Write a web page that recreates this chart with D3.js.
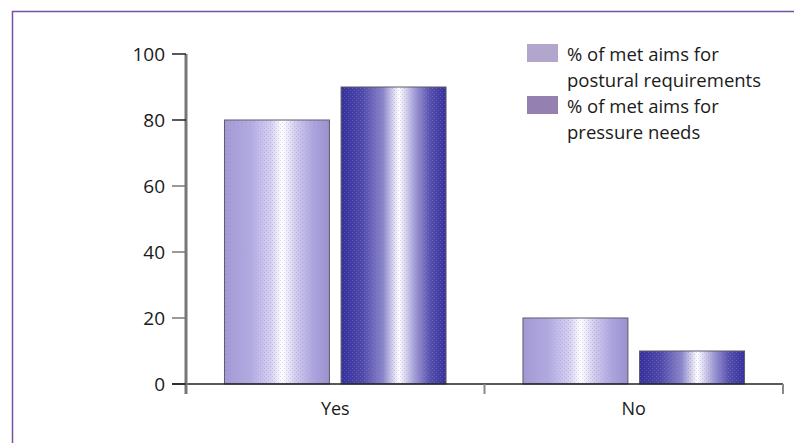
<!DOCTYPE html>
<html>
<head>
<meta charset="utf-8">
<script src="https://cdn.jsdelivr.net/npm/d3@7"></script>
<style>
  html, body { margin: 0; padding: 0; background: #fff; }
  svg { display: block; font-family: "Open Sans", "Noto Sans", sans-serif; }
</style>
</head>
<body>
<svg id="chart" width="794" height="443"></svg>
<script>
// Chart data
const categories = ["Yes", "No"];
const seriesNames = ["% of met aims for postural requirements", "% of met aims for pressure needs"];
const postural = [80, 20];
const pressure = [90, 10];
const yTicks = [0, 20, 40, 60, 80, 100];
const legendLines = [["% of met aims for", "postural requirements"], ["% of met aims for", "pressure needs"]];

const svg = d3.select("#chart");
const margin = { left: 186, right: 11, top: 54, bottom: 59 };
const W = 794, H = 443;

// Outer frame
svg.append("path")
  .attr("d", `M12.5,${H} L12.5,11.5 L${W},11.5`)
  .attr("fill", "none").attr("stroke", "#7452a8").attr("stroke-width", 1.5);

const x0 = d3.scaleBand().domain(categories).range([margin.left, W - margin.right]).paddingInner(0).paddingOuter(0);
const x1 = d3.scaleBand().domain([0, 1]).range([0, x0.bandwidth()]).paddingInner(0.1).paddingOuter(0.33);
const y = d3.scaleLinear().domain([0, 100]).range([H - margin.bottom, margin.top]);

// Gradients
const defs = svg.append("defs");
const grads = [
  { id: "g0", stops: [[0, "#a29ad2"], [0.25, "#b3ace0"], [0.45, "#d6d2f0"], [0.55, "#ffffff"], [0.68, "#d0ccec"], [0.85, "#aca4dc"], [1, "#9a92cc"]] },
  { id: "g1", stops: [[0, "#34309a"], [0.2, "#4e49a8"], [0.4, "#8a86c8"], [0.55, "#ffffff"], [0.7, "#a29ed4"], [0.85, "#5650ac"], [1, "#34309a"]] }
];
grads.forEach(g => {
  const lg = defs.append("linearGradient").attr("id", g.id).attr("x1", 0).attr("x2", 1).attr("y1", 0).attr("y2", 0);
  g.stops.forEach(s => lg.append("stop").attr("offset", s[0]).attr("stop-color", s[1]));
});
// Fine dot texture over the bars
const pat = defs.append("pattern").attr("id", "dots").attr("width", 4).attr("height", 4).attr("patternUnits", "userSpaceOnUse");
pat.append("rect").attr("x", 0).attr("y", 0).attr("width", 1).attr("height", 1).attr("fill", "#c080e0").attr("opacity", 0.35);
pat.append("rect").attr("x", 2).attr("y", 2).attr("width", 1).attr("height", 1).attr("fill", "#8080ff").attr("opacity", 0.35);

// Bars
const values = [postural, pressure];
categories.forEach((c, ci) => {
  [0, 1].forEach(si => {
    const bx = x0(c) + x1(si), bw = x1.bandwidth();
    const by = y(values[si][ci]), bh = y(0) - y(values[si][ci]);
    svg.append("rect").attr("x", bx).attr("y", by).attr("width", bw).attr("height", bh)
      .attr("fill", `url(#g${si})`).attr("stroke", "#5a5a66").attr("stroke-width", 1);
    svg.append("rect").attr("x", bx).attr("y", by).attr("width", bw).attr("height", bh)
      .attr("fill", "url(#dots)");
  });
});

// X axis baseline and ticks
const baseY = y(0);
svg.append("line").attr("x1", 172).attr("x2", W - margin.right).attr("y1", baseY).attr("y2", baseY)
  .attr("stroke", "#222").attr("stroke-width", 1.5);
categories.forEach(c => {
  const tx = x0(c) + x0.bandwidth();
  svg.append("line").attr("x1", tx).attr("x2", tx).attr("y1", baseY).attr("y2", baseY + 10)
    .attr("stroke", "#888").attr("stroke-width", 2);
  svg.append("text").attr("x", x0(c) + x0.bandwidth() / 2).attr("y", baseY + 31)
    .attr("text-anchor", "middle").attr("font-size", 18).attr("fill", "#1a1a1a").text(c);
});

// Y axis
svg.append("line").attr("x1", margin.left).attr("x2", margin.left).attr("y1", y(100)).attr("y2", baseY + 10)
  .attr("stroke", "#777").attr("stroke-width", 3);
yTicks.forEach(t => {
  svg.append("line").attr("x1", 172).attr("x2", margin.left).attr("y1", y(t)).attr("y2", y(t))
    .attr("stroke", t === 0 || t === 100 || t === 80 ? "#222" : "#777").attr("stroke-width", 1.5);
  svg.append("text").attr("x", 165).attr("y", y(t)).attr("dy", "0.36em")
    .attr("text-anchor", "end").attr("font-size", 19).attr("fill", "#1a1a1a").text(t);
});

// Legend
const swatchColors = ["#b3a6cc", "#9580b2"];
legendLines.forEach((lines, i) => {
  const ly = 44 + i * 52;
  svg.append("rect").attr("x", 527).attr("y", ly).attr("width", 31).attr("height", 18).attr("fill", swatchColors[i]);
  lines.forEach((ln, j) => {
    svg.append("text").attr("x", 567).attr("y", ly + 17 + j * 26).attr("font-size", 18.5)
      .attr("fill", "#1a1a1a").text(ln);
  });
});
</script>
</body>
</html>
